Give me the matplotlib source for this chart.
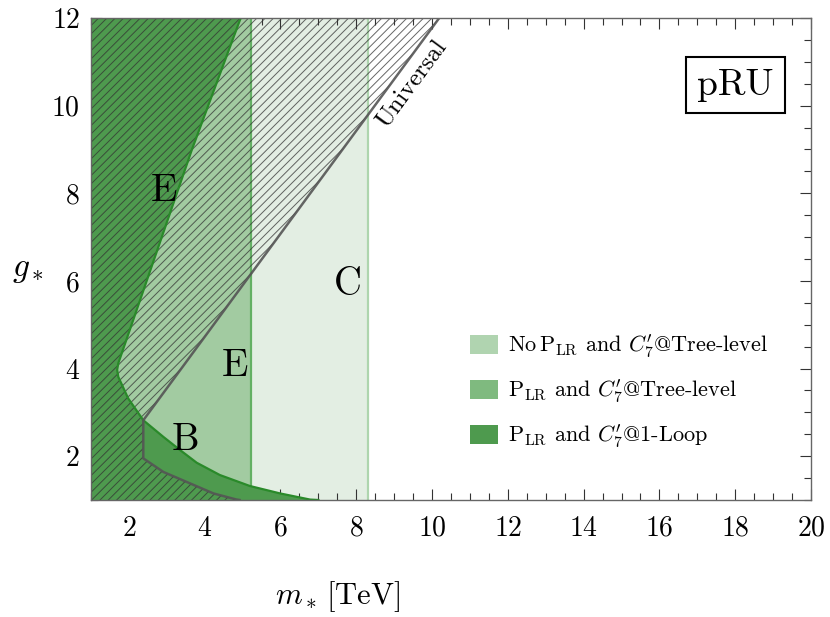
import matplotlib
matplotlib.use("Agg")
import matplotlib.pyplot as plt
from matplotlib.patches import Patch
import numpy as np

plt.rcParams['font.family'] = ['cmr10', 'DejaVu Serif']
plt.rcParams['mathtext.fontset'] = 'cm'
plt.rcParams['axes.formatter.use_mathtext'] = True
plt.rcParams['hatch.linewidth'] = 0.7

# ---- data ----
x_light_edge = 8.32      # "No P_LR and C7' @ Tree-level" bound on m_*
x_medium_edge = 5.21     # "P_LR and C7' @ Tree-level" bound on m_*

# "P_LR and C7' @ 1-Loop" exclusion boundary (m_*, g_*)
loop_m = [4.95, 3.66, 1.72, 1.69, 1.72, 1.98, 2.38, 2.91, 3.35, 3.79, 4.40, 5.19, 5.99, 6.78, 7.00]
loop_g = [12.0, 8.99, 4.12, 3.97, 3.81, 3.32, 2.82, 2.44, 2.14, 1.85, 1.57, 1.32, 1.15, 1.01, 1.00]

# "Universal" boundary (hatched region lies to its left)
univ_m = [10.19, 2.38, 2.38, 2.91, 3.61, 4.23, 4.84, 4.92]
univ_g = [12.00, 2.82, 1.95, 1.64, 1.38, 1.15, 1.01, 1.00]

legend_labels = [r"No$\,$P$_{\rm LR}$ and $C_7'$@Tree-level",
                 r"P$_{\rm LR}$ and $C_7'$@Tree-level",
                 r"P$_{\rm LR}$ and $C_7'$@1-Loop"]

x_min, x_max = 1, 20
y_min, y_max = 1, 12

# ---- colours ----
c_light, c_medium, c_dark = '#e3eee3', '#a2cba1', '#4e9a4e'
c_light_leg, c_medium_leg, c_dark_leg = '#b0d4b0', '#7fba7f', '#4e9a4e'

fig = plt.figure(figsize=(8.3, 6.17), dpi=100)
ax = fig.add_axes([91/830, 1-500/617, 720/830, 482/617])

# light band
ax.fill_between([x_min, x_light_edge], y_min, y_max, color=c_light, lw=0, zorder=1)
ax.plot([x_light_edge, x_light_edge], [y_min, y_max], color='#aed5ae', lw=1.6, zorder=2)
# medium band
ax.fill_between([x_min, x_medium_edge], y_min, y_max, color=c_medium, lw=0, zorder=3)
ax.plot([x_medium_edge, x_medium_edge], [y_min, y_max], color='#64b064', lw=1.6, zorder=4)
# dark region (1-loop)
dark_m = [x_min] + loop_m + [x_min]
dark_g = [y_max] + loop_g + [y_min]
ax.fill(dark_m, dark_g, facecolor=c_dark, edgecolor='none', zorder=5)
ax.plot(loop_m, loop_g, color='#2a8a2a', lw=1.6, zorder=7)
ax.plot([x_min, loop_m[0]], [y_max, y_max], color='#2a8a2a', lw=1.6, zorder=7)

# hatched universal region
hat_m = [x_min] + univ_m + [x_min]
hat_g = [y_max] + univ_g + [y_min]
ax.fill(hat_m, hat_g, facecolor='none', edgecolor=(0.2, 0.2, 0.2, 0.75), hatch='////', lw=0, zorder=6)
ax.plot(univ_m, univ_g, color='#555555', lw=1.8, alpha=0.9, zorder=8)

# labels inside
lab_fs = 28
ax.text(2.93, 8.04, 'E', fontsize=lab_fs, ha='center', va='center', zorder=9)
ax.text(4.80, 4.05, 'E', fontsize=lab_fs, ha='center', va='center', zorder=9)
ax.text(3.48, 2.37, 'B', fontsize=lab_fs, ha='center', va='center', zorder=9)
ax.text(7.79, 5.90, 'C', fontsize=lab_fs, ha='center', va='center', zorder=9)
ax.text(9.46, 10.51, 'Universal', fontsize=18, ha='center', va='center',
        rotation=53.6, rotation_mode='anchor', zorder=9)
ax.text(18.0, 10.47, 'pRU', fontsize=27, ha='center', va='center', zorder=9,
        bbox=dict(boxstyle='square,pad=0.3', facecolor='white', edgecolor='black', lw=1.5))

# legend
handles = [Patch(facecolor=c, edgecolor='none') for c in (c_light_leg, c_medium_leg, c_dark_leg)]
leg = ax.legend(handles, legend_labels, loc='center left', bbox_to_anchor=(0.527, 0.226),
                frameon=False, fontsize=16, handlelength=1.25, handleheight=0.95,
                labelspacing=0.8, handletextpad=0.45, borderpad=0, borderaxespad=0)

ax.set_xlim(x_min, x_max)
ax.set_ylim(y_min, y_max)
ax.set_xticks(np.arange(2, 21, 2))
ax.set_yticks(np.arange(2, 13, 2))
ax.set_xticks(np.arange(1, 20.01, 0.5), minor=True)
ax.set_yticks(np.arange(1, 12.01, 0.5), minor=True)
ax.tick_params(which='both', direction='in', top=True, right=True, color='#333333', width=0.8)
ax.tick_params(which='major', length=8, labelsize=20, pad=11)
ax.tick_params(axis='y', which='major', pad=8)
ax.tick_params(which='minor', length=5)
for s in ax.spines.values():
    s.set_color('#666666')
    s.set_linewidth(1.0)
    s.set_zorder(10)

ax.set_xlabel(r'$m_*\,[\mathrm{TeV}]$', fontsize=22)
ax.xaxis.set_label_coords(0.343, -0.2)
ax.xaxis.label.set_va('center')
ax.set_ylabel(r'$g_*$', fontsize=24, rotation=0)
ax.yaxis.set_label_coords(-0.087, 0.477)
ax.yaxis.label.set_va('center')
ax.yaxis.label.set_ha('center')

fig.savefig('out.png', dpi=100)
